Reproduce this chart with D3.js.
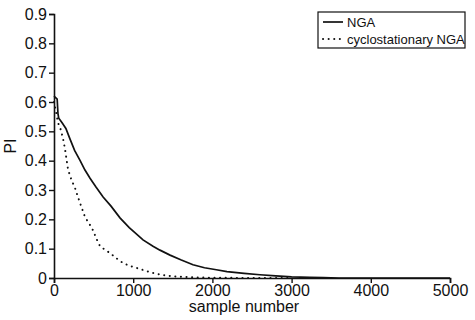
<!DOCTYPE html>
<html>
<head>
<meta charset="utf-8">
<script src="https://cdn.jsdelivr.net/npm/d3@7"></script>
<style>
  body { margin: 0; background: #fff; }
  svg { display: block; font-family: "Liberation Sans", Arial, sans-serif; }
</style>
</head>
<body>
<div id="chart"></div>
<script>
// sample number / PI
var ngaSamples = [0, 20, 40, 50, 60, 100, 150, 200, 260, 330, 391, 455, 530, 620, 720, 833, 950, 1050, 1124, 1250, 1338, 1465, 1600, 1755, 1900, 2050, 2184, 2400, 2600, 2800, 3000, 3230, 3400, 3600, 5000];
var ngaValues = [0.62, 0.615, 0.61, 0.56, 0.545, 0.53, 0.51, 0.475, 0.435, 0.40, 0.368, 0.34, 0.31, 0.276, 0.245, 0.205, 0.172, 0.148, 0.13, 0.108, 0.095, 0.078, 0.062, 0.045, 0.035, 0.028, 0.022, 0.016, 0.011, 0.007, 0.004, 0.002, 0.001, 0, 0];

var cycSamples = [0, 30, 50, 80, 110, 139, 177, 220, 265, 328, 391, 480, 543, 580, 640, 707, 790, 871, 960, 1048, 1150, 1250, 1350, 1465, 1600, 1800, 2000, 2500, 3000];
var cycValues = [0.60, 0.56, 0.53, 0.51, 0.48, 0.44, 0.37, 0.335, 0.307, 0.256, 0.208, 0.17, 0.13, 0.109, 0.097, 0.085, 0.067, 0.051, 0.041, 0.034, 0.025, 0.017, 0.011, 0.007, 0.004, 0.002, 0.001, 0, 0];

var xTicks = [0, 1000, 2000, 3000, 4000, 5000];
var yTicks = [0, 0.1, 0.2, 0.3, 0.4, 0.5, 0.6, 0.7, 0.8, 0.9];
var seriesNames = ["NGA", "cyclostationary NGA"];

var svgWidth = 475, svgHeight = 320;
var margin = { top: 14, right: 25, bottom: 42, left: 54 };
var width = svgWidth - margin.left - margin.right;
var height = svgHeight - margin.top - margin.bottom;

var svg = d3.select("#chart")
  .append("svg")
  .attr("width", svgWidth)
  .attr("height", svgHeight);

var chartGroup = svg.append("g")
  .attr("transform", `translate(${margin.left}, ${margin.top})`);

var x = d3.scaleLinear().domain([0, 5000]).range([0, width]);
var y = d3.scaleLinear().domain([0, 0.9]).range([height, 0]);

// axes
var xAxis = d3.axisBottom(x).tickValues(xTicks).tickSize(5).tickPadding(2).tickFormat(d3.format("d"));
var yAxis = d3.axisLeft(y).tickValues(yTicks).tickSize(5).tickPadding(2)
  .tickFormat(d => d === 0 ? "0" : d3.format(".1f")(d));

var gx = chartGroup.append("g")
  .attr("transform", `translate(0, ${height})`)
  .call(xAxis);
var gy = chartGroup.append("g").call(yAxis);

[gx, gy].forEach(function(g) {
  g.select(".domain").attr("stroke", "#111").attr("stroke-width", 1.6);
  g.selectAll(".tick line").attr("stroke", "#111").attr("stroke-width", 1.4);
  g.selectAll(".tick text").attr("fill", "#111").style("font-size", "16px")
    .style("font-family", "'Liberation Sans', Arial, sans-serif");
});

// lines
var line = d3.line()
  .x(d => x(d[0]))
  .y(d => y(d[1]));

var ngaData = ngaSamples.map((s, i) => [s, ngaValues[i]]);
var cycData = cycSamples.map((s, i) => [s, cycValues[i]]);

chartGroup.append("path")
  .datum(cycData)
  .attr("fill", "none")
  .attr("stroke", "#111")
  .attr("stroke-width", 2)
  .attr("stroke-linecap", "round")
  .attr("stroke-dasharray", "0.1,5.5")
  .attr("d", line);

chartGroup.append("path")
  .datum(ngaData)
  .attr("fill", "none")
  .attr("stroke", "#111")
  .attr("stroke-width", 1.7)
  .attr("d", line);

// axis labels
chartGroup.append("text")
  .attr("x", width / 2 - 8)
  .attr("y", height + 34)
  .attr("text-anchor", "middle")
  .attr("fill", "#111")
  .style("font-size", "16px")
  .text("sample number");

chartGroup.append("text")
  .attr("transform", "rotate(-90)")
  .attr("x", -(y(0.45)))
  .attr("y", -38)
  .attr("text-anchor", "middle")
  .attr("fill", "#111")
  .style("font-size", "16px")
  .text("PI");

// legend
var legend = svg.append("g").attr("transform", "translate(318, 12)");
legend.append("rect")
  .attr("width", 147)
  .attr("height", 36)
  .attr("fill", "#fff")
  .attr("stroke", "#111")
  .attr("stroke-width", 1.2);

seriesNames.forEach(function(name, i) {
  var ly = 10 + i * 17;
  legend.append("line")
    .attr("x1", 5).attr("x2", 25)
    .attr("y1", ly).attr("y2", ly)
    .attr("stroke", "#111")
    .attr("stroke-width", i === 0 ? 1.7 : 2)
    .attr("stroke-linecap", i === 0 ? "butt" : "round")
    .attr("stroke-dasharray", i === 0 ? null : "0.1,5.5");
  legend.append("text")
    .attr("x", 29)
    .attr("y", ly + 5)
    .attr("fill", "#111")
    .style("font-size", "13px")
    .text(name);
});
</script>
</body>
</html>
